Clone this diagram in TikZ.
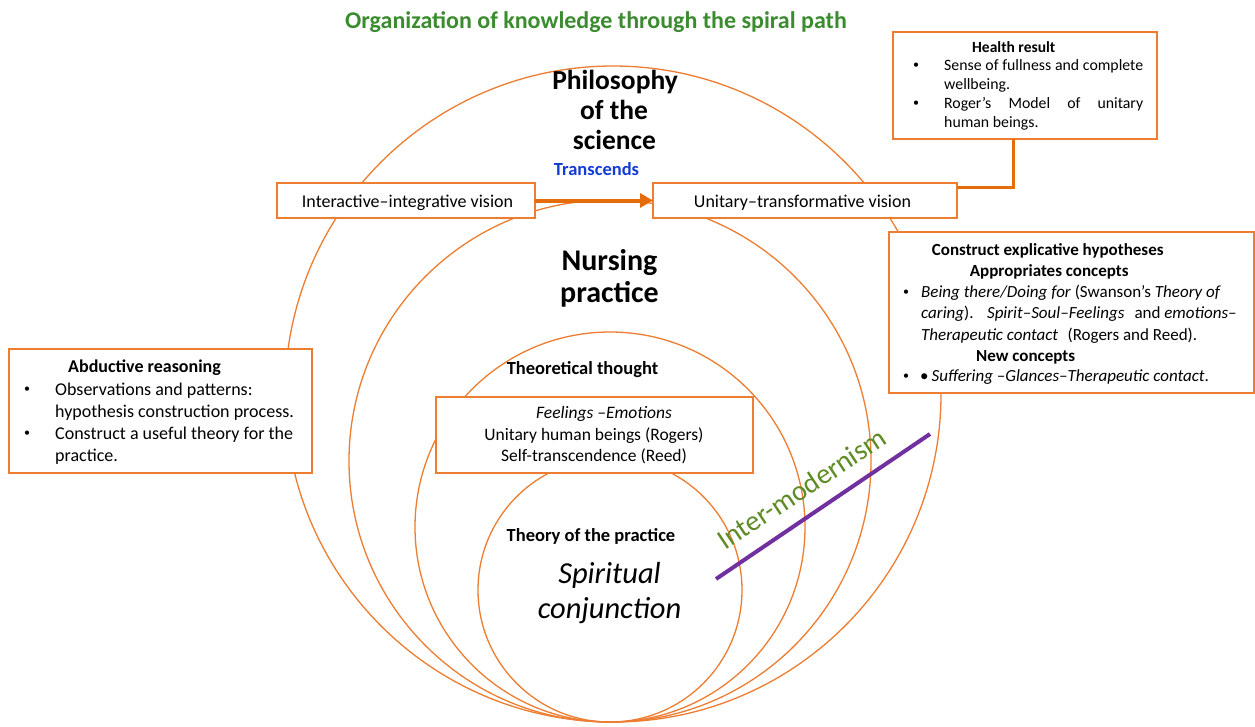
\documentclass[tikz,border=0pt]{standalone}
\usepackage{fontspec}
\setmainfont{Carlito}
\usetikzlibrary{arrows.meta}
\definecolor{circorange}{HTML}{ED7D31}
\definecolor{linkorange}{HTML}{E46C0A}
\definecolor{titlegreen}{RGB}{59,139,47}
\definecolor{intergreen}{RGB}{94,139,38}
\definecolor{transblue}{RGB}{20,60,210}
\definecolor{impurple}{HTML}{7030A0}
\newcommand{\myfs}[1]{\fontsize{#1}{#1}\selectfont}
\begin{document}
\begin{tikzpicture}[x=1pt,y=-1pt,
  ring/.style={draw=circorange, line width=1.3pt},
  box/.style={draw=circorange, line width=1.4pt, fill=white, inner sep=0pt, outer sep=0pt},
  txt/.style={inner sep=0pt, anchor=base},
  txtw/.style={inner sep=0pt, anchor=base west},
  bul/.style={inner sep=0pt, anchor=base, font={\myfs{12}}},
  link/.style={draw=linkorange, line width=3pt},
]
\useasboundingbox (0,0) rectangle (1255,726);
\fill[white] (0,0) rectangle (1255,726);

% nested circles, all tangent at the bottom
\draw[ring] (613,394) circle[radius=328];
\draw[ring] (610,461) circle[radius=261];
\draw[ring] (610,527) circle[radius=195];
\draw[ring] (610,590) circle[radius=132];

% inter-modernism line
\coordinate (im1) at (716,579);
\coordinate (im2) at (930,434);
\draw[draw=impurple, line width=4pt] (im1) -- (im2);

% boxes
\node[box, minimum width=264pt, minimum height=107pt] (health) at (1025,85.5) {};
\node[box, minimum width=304pt, minimum height=35pt] (unitary) at (805,200.5) {};
\node[box, minimum width=258pt, minimum height=35pt] (inter) at (406,200.5) {};
\node[box, minimum width=365pt, minimum height=161pt] (construct) at (1071.5,312.5) {};
\node[box, minimum width=303pt, minimum height=124pt] (abduct) at (160.5,411) {};
\node[box, minimum width=317pt, minimum height=76pt] (feel) at (594.5,435) {};

% connectors
\draw[link] ([xshift=-12pt]health.south) |- ([yshift=13.5pt]unitary.east);
\draw[link, line width=4pt, -{Triangle[length=13pt,width=14pt]}] (inter.east) -- (unitary.west);

% title
\node[txt, font={\myfs{24}\bfseries}, text=titlegreen] (title) at (596,28.3) {Organization of knowledge through the spiral path};

% central texts
\node[txt, font={\myfs{27.5}\bfseries}] (phil1) at (615,89.3) {Philosophy};
\node[txt, font={\myfs{27.5}\bfseries}] (phil2) at (614,119.3) {of the};
\node[txt, font={\myfs{27.5}\bfseries}] (phil3) at (614.5,149.3) {science};
\node[txt, font={\myfs{18.5}\bfseries}, text=transblue] (trans) at (596.5,175.7) {Transcends};
\node[txt, font={\myfs{18}}] (intert) at (407.5,207) {Interactive–integrative vision};
\node[txt, font={\myfs{18}}] (unitt) at (802.5,207) {Unitary–transformative vision};
\node[txt, font={\myfs{30}\bfseries}] (nurs1) at (609.5,270) {Nursing};
\node[txt, font={\myfs{30}\bfseries}] (nurs2) at (609.5,302.7) {practice};
\node[txt, font={\myfs{18.5}\bfseries}] (theo) at (582.5,374) {Theoretical thought};
\node[txt, font={\myfs{17.5}\itshape}] (feel1) at (604,418.5) {Feelings –Emotions};
\node[txt, font={\myfs{17.5}}] (feel2) at (594,440) {Unitary human beings (Rogers)};
\node[txt, font={\myfs{17.5}}] (feel3) at (594,461) {Self-transcendence (Reed)};
\node[txt, font={\myfs{18.5}\bfseries}] (theop) at (591,541) {Theory of the practice};
\node[txt, font={\myfs{30.5}\itshape}] (spir1) at (609.5,583) {Spiritual};
\node[txt, font={\myfs{30.5}\itshape}] (spir2) at (609.5,618) {conjunction};
\node[txt, font={\myfs{28.5}}, text=intergreen, rotate=33.5] (interm) at (807,497) {Inter-modernism};

% health result box
\node[txtw, font={\myfs{15.5}\bfseries}] (hr0) at (972,52) {Health result};
\node[bul] (hb1) at (916,68.5) {•};
\node[txtw, font={\myfs{15.8}}] (hr1) at (944,70.5) {\makebox[199pt][s]{Sense of fullness and complete}};
\node[txtw, font={\myfs{15.8}}] (hr2) at (944,89.5) {wellbeing.};
\node[bul] (hb2) at (916,106) {•};
\node[txtw, font={\myfs{15.8}}] (hr3) at (944,108) {\makebox[199pt][s]{Roger’s Model of unitary}};
\node[txtw, font={\myfs{15.8}}] (hr4) at (944,127.5) {human beings.};

% construct box
\node[txtw, font={\myfs{17}\bfseries}] (cb0) at (931.7,255) {Construct explicative hypotheses};
\node[txtw, font={\myfs{17}\bfseries}] (cb1) at (969.7,276) {Appropriates concepts};
\node[bul] (cbb1) at (906,295) {•};
\node[txtw, font={\myfs{17}}] (cb2) at (921,297) {\textit{Being there/Doing for} (Swanson’s \textit{Theory of}};
\node[txtw, font={\myfs{17}}] (cb3) at (921,318) {\textit{caring}).\hspace{13.5pt}\textit{Spirit–Soul–Feelings}\hspace{10pt}and \textit{emotions–}};
\node[txtw, font={\myfs{17}}] (cb4) at (921,340) {\textit{Therapeutic contact}\hspace{9.5pt}(Rogers and Reed).};
\node[txtw, font={\myfs{17}\bfseries}] (cb5) at (976,361) {New concepts};
\node[bul] (cbb2) at (906,379.5) {•};
\node[txtw, font={\myfs{17}}] (cb6) at (920,381.5) {•\hspace{3pt}\textit{Suffering –Glances–Therapeutic contact}.};

% abductive box
\node[txtw, font={\myfs{18}\bfseries}] (ab0) at (68,372) {Abductive reasoning};
\node[bul] (abb1) at (27,392.5) {•};
\node[txtw, font={\myfs{18}}] (ab1) at (55,395) {Observations and patterns:};
\node[txtw, font={\myfs{18}}] (ab2) at (55,417) {hypothesis construction process.};
\node[bul] (abb2) at (27,436.5) {•};
\node[txtw, font={\myfs{18}}] (ab3) at (55,439) {Construct a useful theory for the};
\node[txtw, font={\myfs{18}}] (ab4) at (55,461) {practice.};
\end{tikzpicture}
\end{document}
